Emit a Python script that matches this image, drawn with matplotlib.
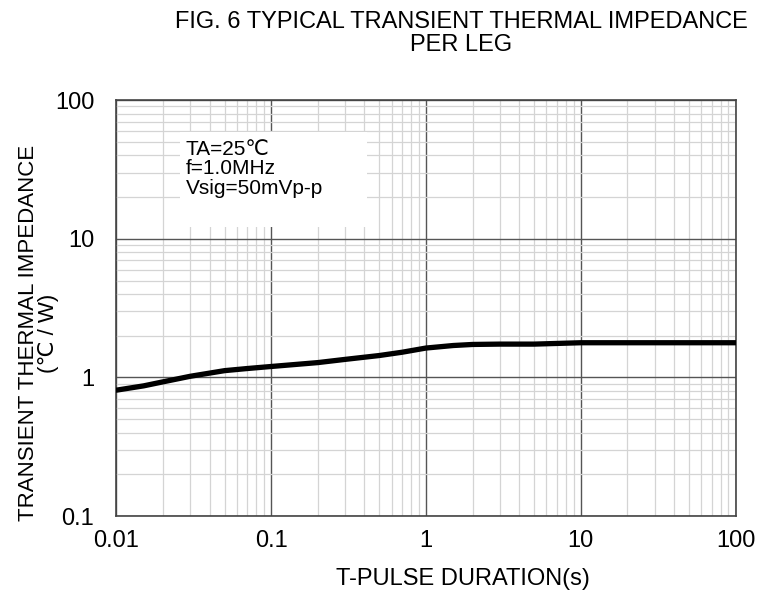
import matplotlib.pyplot as plt
from matplotlib.patches import Rectangle
from matplotlib.ticker import LogLocator, FixedLocator, FixedFormatter, NullFormatter

plt.rcParams['font.family'] = ['Liberation Sans', 'DejaVu Sans']

# curve
pulse_s = [0.01, 0.015, 0.02, 0.03, 0.05, 0.07, 0.1, 0.2, 0.3, 0.5, 0.7, 1.0, 1.5, 2.0, 3.0, 5.0, 10.0, 20.0, 50.0, 100.0]
zth = [0.81, 0.87, 0.93, 1.02, 1.12, 1.16, 1.20, 1.28, 1.35, 1.44, 1.52, 1.63, 1.70, 1.73, 1.74, 1.74, 1.78, 1.78, 1.78, 1.78]

x_ticks = [0.01, 0.1, 1, 10, 100]
x_labels = ['0.01', '0.1', '1', '10', '100']
y_ticks = [0.1, 1, 10, 100]
y_labels = ['0.1', '1', '10', '100']

fig = plt.figure(figsize=(7.71, 5.96), dpi=100)
ax = fig.add_axes([0.151, 0.134, 0.803, 0.698])

ax.plot(pulse_s, zth, color='black', linewidth=3.8, solid_capstyle='round', zorder=4)

ax.set_xscale('log')
ax.set_yscale('log')
ax.set_xlim(0.01, 100)
ax.set_ylim(0.1, 100)

ax.xaxis.set_major_locator(FixedLocator(x_ticks))
ax.xaxis.set_major_formatter(FixedFormatter(x_labels))
ax.yaxis.set_major_locator(FixedLocator(y_ticks))
ax.yaxis.set_major_formatter(FixedFormatter(y_labels))
ax.xaxis.set_minor_locator(LogLocator(base=10, subs=range(2, 10)))
ax.yaxis.set_minor_locator(LogLocator(base=10, subs=range(2, 10)))
ax.xaxis.set_minor_formatter(NullFormatter())
ax.yaxis.set_minor_formatter(NullFormatter())

ax.grid(True, which='minor', color='#d4d4d4', linewidth=0.9)
ax.grid(True, which='major', color='#555555', linewidth=1.0)
ax.set_axisbelow(True)
ax.tick_params(which='both', length=0, labelsize=17)
ax.tick_params(axis='x', pad=10)
ax.tick_params(axis='y', pad=16)

for s in ax.spines.values():
    s.set_color('#444444')
    s.set_linewidth(1.2)

ax.set_xlabel('T-PULSE DURATION(s)', fontsize=17)
ax.xaxis.set_label_coords(0.559, -0.125)
ax.set_ylabel('TRANSIENT THERMAL IMPEDANCE\n(℃ / W)', fontsize=16, linespacing=0.95)
ax.yaxis.set_label_coords(-0.092, 0.44)

# white panel behind the test conditions
ax.add_patch(Rectangle((0.103, 0.695), 0.302, 0.228, transform=ax.transAxes,
                       facecolor='white', edgecolor='none', zorder=2))
ax.text(0.112, 0.905, 'TA=25℃\nf=1.0MHz\nVsig=50mVp-p', transform=ax.transAxes,
        fontsize=15, va='top', ha='left', linespacing=1.05, zorder=3)

fig.text(0.598, 0.982, 'FIG. 6 TYPICAL TRANSIENT THERMAL IMPEDANCE\nPER LEG',
         ha='center', va='top', fontsize=17, linespacing=1.1)

fig.savefig('out.png', dpi=100)
